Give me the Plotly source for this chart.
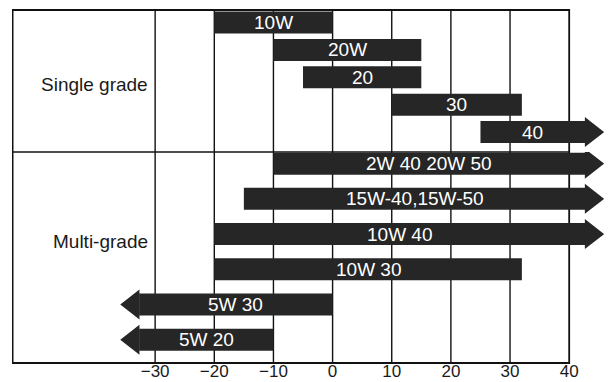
import plotly.graph_objects as go

# ---- data ----
single_grades = ["10W", "20W", "20", "30", "40"]
single_low = [-20, -10, -5, 10, 25]
single_high = [0, 15, 15, 32, 40]
single_open_low = [False, False, False, False, False]
single_open_high = [False, False, False, False, True]

multi_grades = ["2W 40 20W 50", "15W-40,15W-50", "10W 40", "10W 30", "5W 30", "5W 20"]
multi_low = [-10, -15, -20, -20, -30, -30]
multi_high = [40, 40, 40, 32, 0, -10]
multi_open_low = [False, False, False, False, True, True]
multi_open_high = [True, True, True, False, False, False]

tick_vals = [-30, -20, -10, 0, 10, 20, 30, 40]
section_labels = ["Single grade", "Multi-grade"]

# ---- style / layout constants ----
BAR = "#262626"
FONT = "Liberation Sans, Arial, sans-serif"
X_MIN, X_MAX = -54.2, 46.9
FRAME_RIGHT = 40
EXT = 2.7      # body extension beyond open end
HEAD = 3.2     # arrow head length
SPLIT = 0.5977  # paper y of section separator
BAR_PX = 22
HEAD_PX = 15
top_ppu = 27.4
bot_ppu = 35.2
top_range = [4.726, -0.456]
bot_range = [5.66, -0.33]

fig = go.Figure()


def add_section(names, lows, highs, olow, ohigh, yaxis, ppu):
    rows = list(range(len(names)))
    b0, b1 = [], []
    for lo, hi, ol, oh in zip(lows, highs, olow, ohigh):
        b0.append(lo - EXT if ol else lo)
        b1.append(hi + EXT if oh else hi)
    fig.add_trace(go.Bar(
        y=rows, x=[e - s for s, e in zip(b0, b1)], base=b0,
        orientation="h", width=BAR_PX / ppu, marker=dict(color=BAR, line=dict(width=0)),
        xaxis="x", yaxis=yaxis, hoverinfo="skip", showlegend=False))
    hx, hy = [], []
    hh = HEAD_PX / ppu
    for r, s, e, ol, oh in zip(rows, b0, b1, olow, ohigh):
        if oh:
            hx += [e - 0.05, e - 0.05, e + HEAD, None]
            hy += [r - hh, r + hh, r, None]
        if ol:
            hx += [s + 0.05, s + 0.05, s - HEAD, None]
            hy += [r - hh, r + hh, r, None]
    if hx:
        fig.add_trace(go.Scatter(
            x=hx, y=hy, mode="lines", fill="toself", fillcolor=BAR,
            line=dict(width=0, color=BAR), xaxis="x", yaxis=yaxis,
            hoverinfo="skip", showlegend=False))
    for r, s, e, n in zip(rows, b0, b1, names):
        fig.add_annotation(
            x=(s + e) / 2, y=r, xref="x", yref=yaxis, text=n, showarrow=False,
            font=dict(family=FONT, size=19, color="white"),
            xanchor="center", yanchor="middle")


add_section(single_grades, single_low, single_high, single_open_low, single_open_high, "y", top_ppu)
add_section(multi_grades, multi_low, multi_high, multi_open_low, multi_open_high, "y2", bot_ppu)

# grid lines and frame
shapes = []
for v in tick_vals[:-1]:
    shapes.append(dict(type="line", xref="x", yref="paper", x0=v, x1=v, y0=0, y1=1,
                       line=dict(color="#111", width=1.4), layer="below"))
shapes.append(dict(type="rect", xref="x", yref="paper", x0=X_MIN + 0.1, x1=FRAME_RIGHT,
                   y0=0, y1=1, line=dict(color="#111", width=1.8), layer="below"))
shapes.append(dict(type="line", xref="x", yref="paper", x0=X_MIN + 0.1, x1=FRAME_RIGHT,
                   y0=SPLIT, y1=SPLIT, line=dict(color="#111", width=1.4), layer="below"))

fig.add_annotation(x=-30.9, y=2.25, xref="x", yref="y", text=section_labels[0], showarrow=False,
                   xanchor="right", yanchor="middle", font=dict(family=FONT, size=19, color="#1a1a1a"))
fig.add_annotation(x=-30.9, y=2.2, xref="x", yref="y2", text=section_labels[1], showarrow=False,
                   xanchor="right", yanchor="middle", font=dict(family=FONT, size=19, color="#1a1a1a"))

# the page body adds an 8px offset, so the figure is 8px smaller and margins reduced by 8
fig.update_layout(
    width=604, height=374,
    margin=dict(l=4, r=2, t=2, b=19, autoexpand=False),
    paper_bgcolor="white", plot_bgcolor="white",
    barmode="overlay", showlegend=False, hovermode=False,
    shapes=shapes,
    xaxis=dict(range=[X_MIN, X_MAX], tickvals=tick_vals, ticks="", ticklen=0,
               ticklabelstandoff=-4, showgrid=False,
               zeroline=False, showline=False, anchor="y2",
               tickfont=dict(family=FONT, size=17, color="#1a1a1a")),
    yaxis=dict(domain=[SPLIT, 1], range=top_range, showticklabels=False, showgrid=False,
               zeroline=False, anchor="x"),
    yaxis2=dict(domain=[0, SPLIT], range=bot_range, showticklabels=False, showgrid=False,
                zeroline=False, anchor="x"),
)

fig.write_html("out.html")
